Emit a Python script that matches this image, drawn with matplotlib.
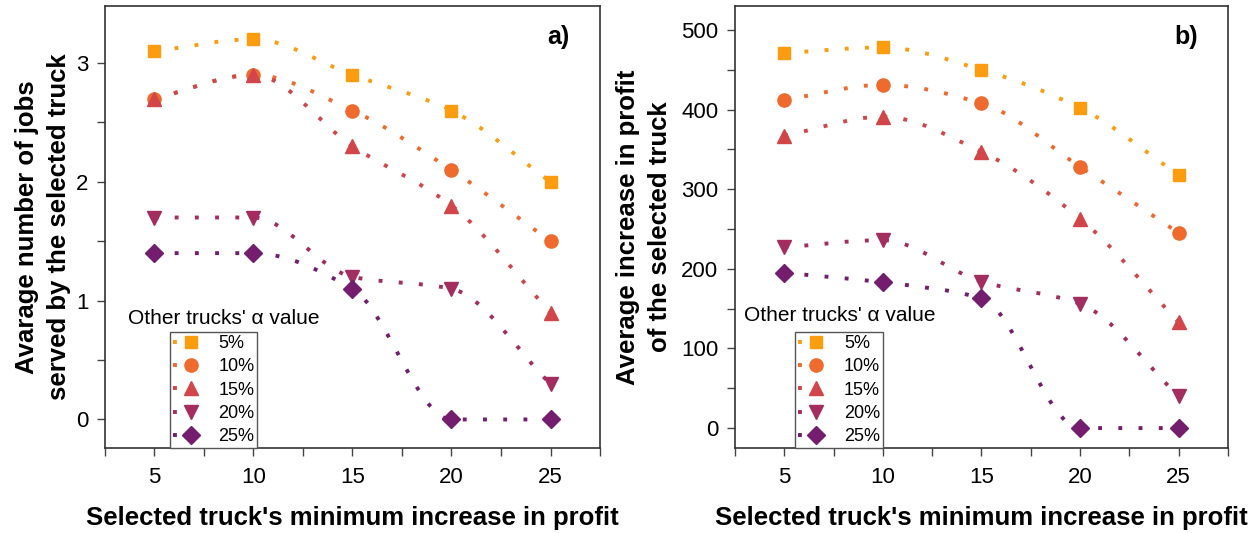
import numpy as np
import matplotlib
matplotlib.use("Agg")
import matplotlib.pyplot as plt
from matplotlib.path import Path
from matplotlib.patches import PathPatch
from matplotlib.lines import Line2D

plt.rcParams['font.family'] = ['Liberation Sans', 'DejaVu Sans']

# data
min_increase = [5, 10, 15, 20, 25]
alpha_labels = ['5%', '10%', '15%', '20%', '25%']
colors = ['#FB9D0F', '#EE6A2D', '#D24549', '#A32D5F', '#741D6F']
markers = ['s', 'o', '^', 'v', 'D']
msizes = [8.5, 9.5, 10.5, 10.5, 9.5]

jobs_5 = [3.1, 3.2, 2.9, 2.6, 2.0]
jobs_10 = [2.7, 2.9, 2.6, 2.1, 1.5]
jobs_15 = [2.7, 2.9, 2.3, 1.8, 0.9]
jobs_20 = [1.7, 1.7, 1.2, 1.1, 0.3]
jobs_25 = [1.4, 1.4, 1.1, 0.0, 0.0]

profit_5 = [471, 478, 450, 402, 318]
profit_10 = [412, 431, 408, 328, 245]
profit_15 = [367, 391, 347, 263, 133]
profit_20 = [227, 236, 184, 156, 40]
profit_25 = [195, 183, 163, 0, 0]

jobs = [jobs_5, jobs_10, jobs_15, jobs_20, jobs_25]
profit = [profit_5, profit_10, profit_15, profit_20, profit_25]

DOTS = (0, (1, 4.2))
LW = 2.8


def smooth_path(x, y):
    # smoothed line through the points, monotone tangents so it never overshoots
    x = np.asarray(x, float)
    y = np.asarray(y, float)
    h = np.diff(x)
    d = np.diff(y) / h
    m = np.zeros_like(y)
    m[0], m[-1] = d[0], d[-1]
    for i in range(1, len(y) - 1):
        if d[i - 1] * d[i] > 0:
            m[i] = 2.0 / (1.0 / d[i - 1] + 1.0 / d[i])
    verts = [(x[0], y[0])]
    codes = [Path.MOVETO]
    for i in range(len(x) - 1):
        verts += [(x[i] + h[i] / 3, y[i] + m[i] * h[i] / 3),
                  (x[i + 1] - h[i] / 3, y[i + 1] - m[i + 1] * h[i] / 3),
                  (x[i + 1], y[i + 1])]
        codes += [Path.CURVE4] * 3
    return Path(verts, codes)


def draw_panel(ax, series, ylim, ymajor, yminor, tag, ylabel, ylabel_x, leg_x, title_xy):
    for vals, c in zip(series, colors):
        ax.add_patch(PathPatch(smooth_path(min_increase, vals), fill=False,
                               edgecolor=c, lw=LW, linestyle=DOTS, zorder=2))
    for vals, c, m, ms in zip(series, colors, markers, msizes):
        ax.plot(min_increase, vals, linestyle='none', marker=m, ms=ms,
                color=c, mec=c, zorder=3)

    ax.set_xlim(2.5, 27.5)
    ax.set_ylim(*ylim)
    xt = np.arange(2.5, 27.6, 2.5)
    ax.set_xticks(xt)
    ax.set_xticklabels([str(int(v)) if v % 5 == 0 else '' for v in xt])
    yt = np.arange(0, ylim[1], yminor)
    ax.set_yticks(yt)
    ax.set_yticklabels([f'{v:g}' if abs(v / ymajor - round(v / ymajor)) < 1e-9 else ''
                        for v in yt])
    ax.tick_params(axis='both', direction='out', length=6, width=1,
                   labelsize=16, color='#444444')
    ax.tick_params(axis='y', pad=6)
    ax.tick_params(axis='x', pad=8)
    for sp in ax.spines.values():
        sp.set_color('#333333')
        sp.set_linewidth(1.2)

    ax.set_xlabel("Selected truck's minimum increase in profit", fontsize=18.5,
                  fontweight='bold', labelpad=13)
    ax.set_ylabel(ylabel, fontsize=18.5, fontweight='bold', linespacing=1.42)
    ax.yaxis.set_label_coords(ylabel_x, 0.5)
    ax.text(0.915, 0.93, tag, transform=ax.transAxes, fontsize=18,
            fontweight='bold', ha='center', va='center')

    handles = [Line2D([], [], color=c, lw=LW, linestyle=(0, (1, 100)),
                      marker=m, ms=ms, mec=c)
               for c, m, ms in zip(colors, markers, msizes)]
    leg = ax.legend(handles, alpha_labels, loc='lower left',
                    bbox_to_anchor=(leg_x, 0.0), fontsize=13, frameon=True,
                    fancybox=False, framealpha=1, edgecolor='#555555',
                    handlelength=2.0, handletextpad=0.55, labelspacing=0.35,
                    borderpad=0.15, borderaxespad=0.0)
    leg.get_frame().set_linewidth(1.0)
    ax.text(title_xy[0], title_xy[1], "Other trucks' α value",
            transform=ax.transAxes, fontsize=15, ha='center', va='center')


fig = plt.figure(figsize=(12.6, 5.33), dpi=100)
ax_a = fig.add_axes([0.0833, 0.1595, 0.3929, 0.8292])
ax_b = fig.add_axes([0.5833, 0.1595, 0.3913, 0.8292])

draw_panel(ax_a, jobs, (-0.24, 3.48), 1, 0.5, 'a)',
           "Avarage number of jobs\nserved by the selected truck", -0.069,
           0.131, (0.24, 0.294))
draw_panel(ax_b, profit, (-25, 530), 100, 50, 'b)',
           "Average increase in profit\nof the selected truck", -0.128,
           0.122, (0.213, 0.30))

fig.savefig('out.png', dpi=100)
